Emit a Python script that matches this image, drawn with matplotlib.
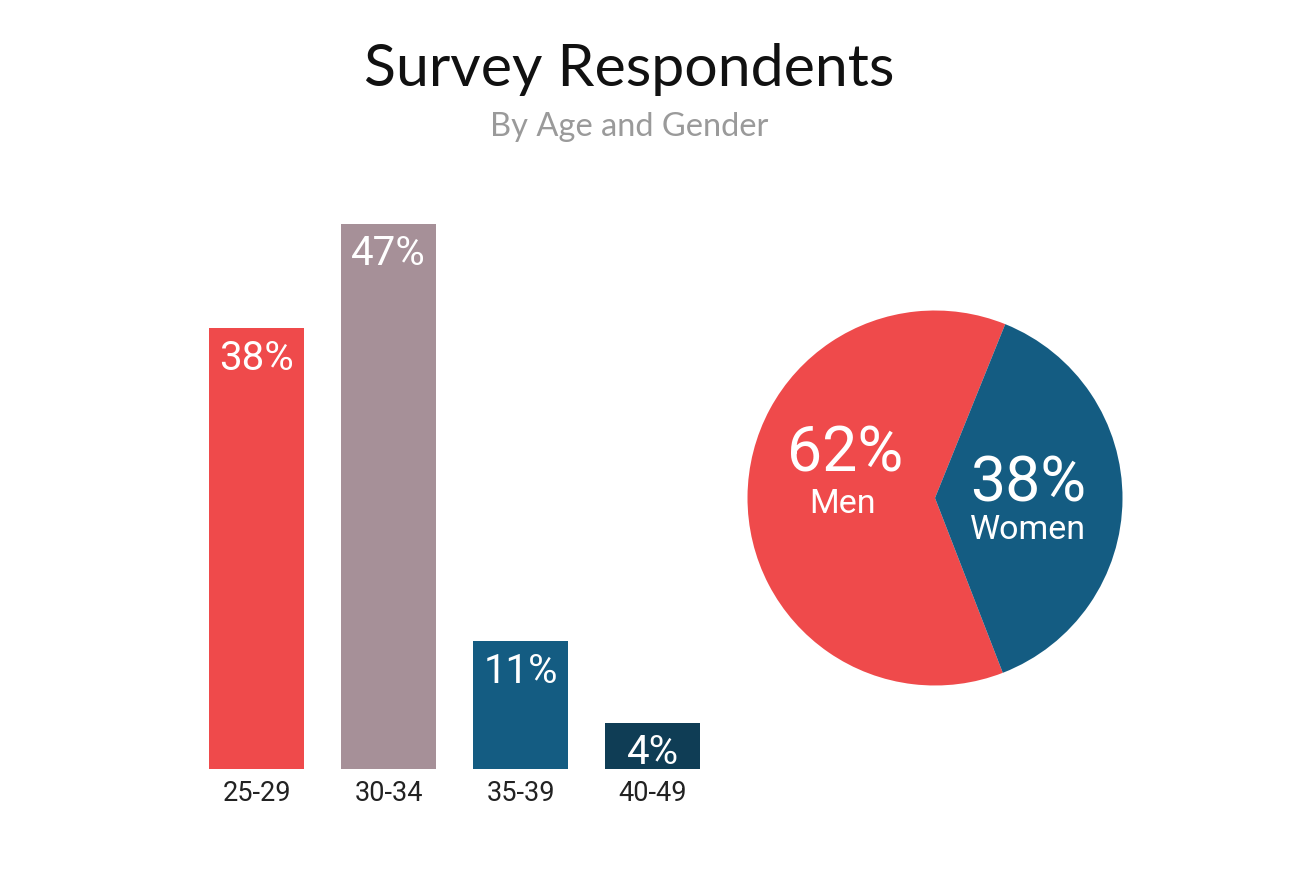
"""Survey respondents by age group (bars) and gender (pie)."""

import matplotlib.pyplot as plt

# data
age_groups = ["25-29", "30-34", "35-39", "40-49"]
age_share = [38, 47, 11, 4]
age_colors = ["#EF4A4B", "#A69098", "#145C82", "#0F3D55"]

genders = ["Men", "Women"]
gender_share = [62, 38]
gender_colors = ["#EF4A4B", "#145C82"]

TITLE = "Survey Respondents"
SUBTITLE = "By Age and Gender"

W, H = 1290, 878
fig = plt.figure(figsize=(W / 100, H / 100), dpi=100)
fig.patch.set_facecolor("white")

fig.text(629 / W, 1 - 70 / H, TITLE, ha="center", va="center",
         fontsize=42.5, family="Lato", color="#111111")
fig.text(629 / W, 1 - 127 / H, SUBTITLE, ha="center", va="center",
         fontsize=23.5, family="Lato", color="#9A9A9A")

# bar chart: 132 px per category, 11.6 px per percent
ax = fig.add_axes([190.5 / W, 108 / H, 528 / W, 580 / H])
xs = list(range(len(age_groups)))
bars = ax.bar(xs, age_share, width=0.72, color=age_colors)
for rect, v in zip(bars, age_share):
    ax.annotate(f"{v}%", (rect.get_x() + rect.get_width() / 2, rect.get_height()),
                xytext=(0, -21), textcoords="offset points",
                ha="center", va="center", color="white",
                fontsize=29, family="Roboto")
ax.set_xlim(-0.5, len(age_groups) - 0.5)
ax.set_ylim(0, 50)
ax.set_xticks(xs)
ax.set_xticklabels(age_groups, family="Roboto", fontsize=19.5, color="#222222")
ax.tick_params(axis="x", length=0, pad=7)
ax.set_yticks([])
for s in ax.spines.values():
    s.set_visible(False)

# pie chart
pax = fig.add_axes([735 / W, 179 / H, 400 / W, 400 / H])
pax.pie(gender_share, colors=gender_colors, startangle=68,
        radius=0.9375, wedgeprops=dict(linewidth=0))
pax.set_xlim(-1, 1)
pax.set_ylim(-1, 1)
pax.set_aspect("equal")
pax.axis("off")

label_pos = [(-0.45, 0.225, -0.465, -0.025), (0.465, 0.07, 0.465, -0.155)]
for (px, py, lx, ly), name, v in zip(label_pos, genders, gender_share):
    pax.text(px, py, f"{v}%", ha="center", va="center", color="white",
             fontsize=45, family="Roboto")
    pax.text(lx, ly, name, ha="center", va="center", color="white",
             fontsize=24.5, family="Roboto")

fig.savefig("out.png", dpi=100)
